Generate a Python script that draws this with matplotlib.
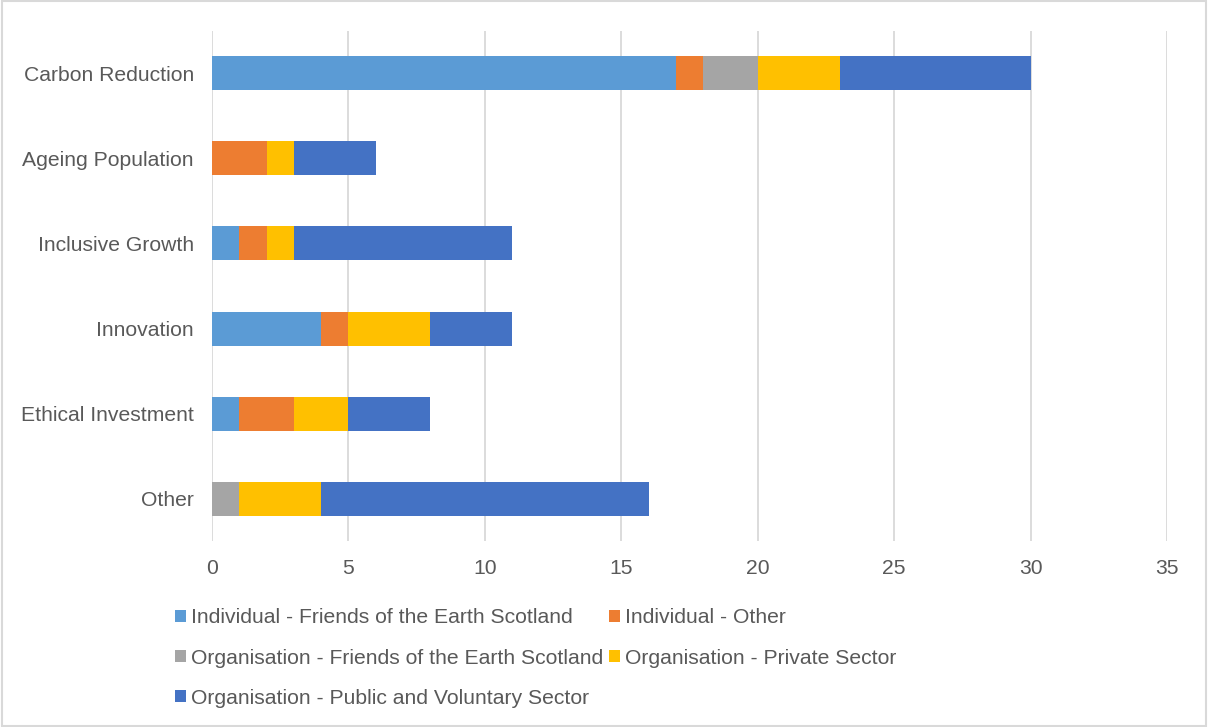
import numpy as np
import matplotlib.pyplot as plt
from matplotlib.patches import Rectangle

plt.rcParams['font.family'] = ['Liberation Sans', 'DejaVu Sans']

# themes, top to bottom
themes = ['Carbon Reduction', 'Ageing Population', 'Inclusive Growth',
          'Innovation', 'Ethical Investment', 'Other']

# responses per theme, by respondent group
ind_foe = [17, 0, 1, 4, 1, 0]
ind_other = [1, 2, 1, 1, 2, 0]
org_foe = [2, 0, 0, 0, 0, 1]
org_private = [3, 1, 1, 3, 2, 3]
org_public = [7, 3, 8, 3, 3, 12]

groups = ['Individual - Friends of the Earth Scotland', 'Individual - Other',
          'Organisation - Friends of the Earth Scotland', 'Organisation - Private Sector',
          'Organisation - Public and Voluntary Sector']
colors = ['#5B9BD5', '#ED7D31', '#A5A5A5', '#FFC000', '#4472C4']
series = [ind_foe, ind_other, org_foe, org_private, org_public]

text_col = '#595959'
grid_col = '#D9D9D9'
fs = 15.2

fig = plt.figure(figsize=(12.08, 7.27), dpi=100)
ax = fig.add_axes([0.1755, 0.2558, 0.966 - 0.1755, 0.9574 - 0.2558])

y = np.arange(len(themes))
left = np.zeros(len(themes))
handles = []
for vals, name, c in zip(series, groups, colors):
    vals = np.array(vals, dtype=float)
    h = ax.barh(y, vals, left=left, height=0.4, color=c, label=name, zorder=3)
    handles.append(h)
    left += vals

ax.set_ylim(len(themes) - 0.5, -0.5)
ax.set_xlim(0, 35)
ax.set_xticks(range(0, 36, 5))
ax.set_yticks(y)
ax.set_yticklabels(themes)
ax.xaxis.grid(True, color=grid_col, linewidth=1.3, zorder=0)
for s in ax.spines.values():
    s.set_visible(False)
ax.tick_params(axis='both', length=0, labelsize=fs, colors=text_col)
ax.tick_params(axis='y', pad=13)
ax.tick_params(axis='x', pad=13)

# legend laid out row by row
order = [0, 2, 4, 1, 3]
leg = fig.legend([handles[i] for i in order], [groups[i] for i in order],
                 ncol=2, loc='upper left', bbox_to_anchor=(0.1449, 0.163),
                 frameon=False, fontsize=fs, handlelength=0.5, handleheight=0.5,
                 handletextpad=0.24, columnspacing=0.3, labelspacing=1.0,
                 borderaxespad=0, borderpad=0)
for t in leg.get_texts():
    t.set_color(text_col)

fig.patches.append(Rectangle((0.002, 0.002), 0.996, 0.996, transform=fig.transFigure,
                             fill=False, edgecolor=grid_col, linewidth=1.5))

fig.savefig('out.png', dpi=100)
